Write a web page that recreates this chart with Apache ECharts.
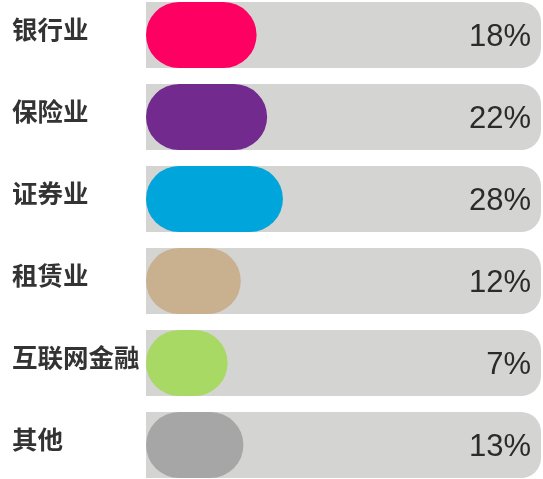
<!DOCTYPE html>
<html>
<head>
<meta charset="utf-8">
<script src="https://cdn.jsdelivr.net/npm/echarts@6/dist/echarts.min.js"></script>
<style>
  html, body { margin: 0; padding: 0; background: #fff; }
  #main { width: 543px; height: 479px; }
</style>
</head>
<body>
<div id="main"></div>
<script>
const categories = ['银行业', '保险业', '证券业', '租赁业', '互联网金融', '其他'];
const shares = [18, 22, 28, 12, 7, 13];
const barColors = ['#fe0062', '#722a8e', '#00a5dc', '#c9b08f', '#a7d964', '#a6a6a6'];

// axis range of the picture (bars are drawn from the left end of the axis)
const xMin = -24;
const xMax = 126;

const chart = echarts.init(document.getElementById('main'));

function renderRow(params, api) {
  const idx = api.value(0);
  const val = api.value(1);
  const start = api.coord([xMin, idx]);
  const end = api.coord([val, idx]);
  const trackEnd = api.coord([xMax, idx]);
  const h = api.size([0, 1])[1] * 0.805;
  const top = start[1] - h / 2;
  return {
    type: 'group',
    children: [
      {
        type: 'rect',
        shape: {x: start[0], y: top, width: trackEnd[0] - start[0], height: h, r: [0, 20, 20, 0]},
        style: {fill: '#d4d4d2'}
      },
      {
        type: 'rect',
        shape: {x: start[0], y: top, width: end[0] - start[0], height: h, r: h / 2},
        style: {fill: barColors[idx]}
      },
      {
        type: 'text',
        style: {
          x: trackEnd[0] - 10,
          y: start[1] + 2,
          text: val + '%',
          align: 'right',
          verticalAlign: 'middle',
          fontFamily: 'Liberation Sans, Arial, sans-serif',
          fontSize: 31,
          fill: '#2b2b2b'
        }
      }
    ]
  };
}

chart.setOption({
  animation: false,
  grid: {left: 146, right: 2, top: -6, bottom: -7, outerBoundsMode: 'none'},
  xAxis: {
    type: 'value',
    min: xMin,
    max: xMax,
    show: false
  },
  yAxis: {
    type: 'category',
    inverse: true,
    data: categories,
    axisLine: {show: false},
    axisTick: {show: false},
    splitLine: {show: false},
    axisLabel: {
      align: 'left',
      verticalAlign: 'bottom',
      lineHeight: 12,
      margin: 134,
      fontFamily: 'Noto Sans CJK SC',
      fontWeight: 'bold',
      fontSize: 25.5,
      color: '#333'
    }
  },
  series: [{
    type: 'custom',
    renderItem: renderRow,
    encode: {x: 1, y: 0},
    data: shares.map((v, i) => [i, v])
  }]
});
</script>
</body>
</html>
